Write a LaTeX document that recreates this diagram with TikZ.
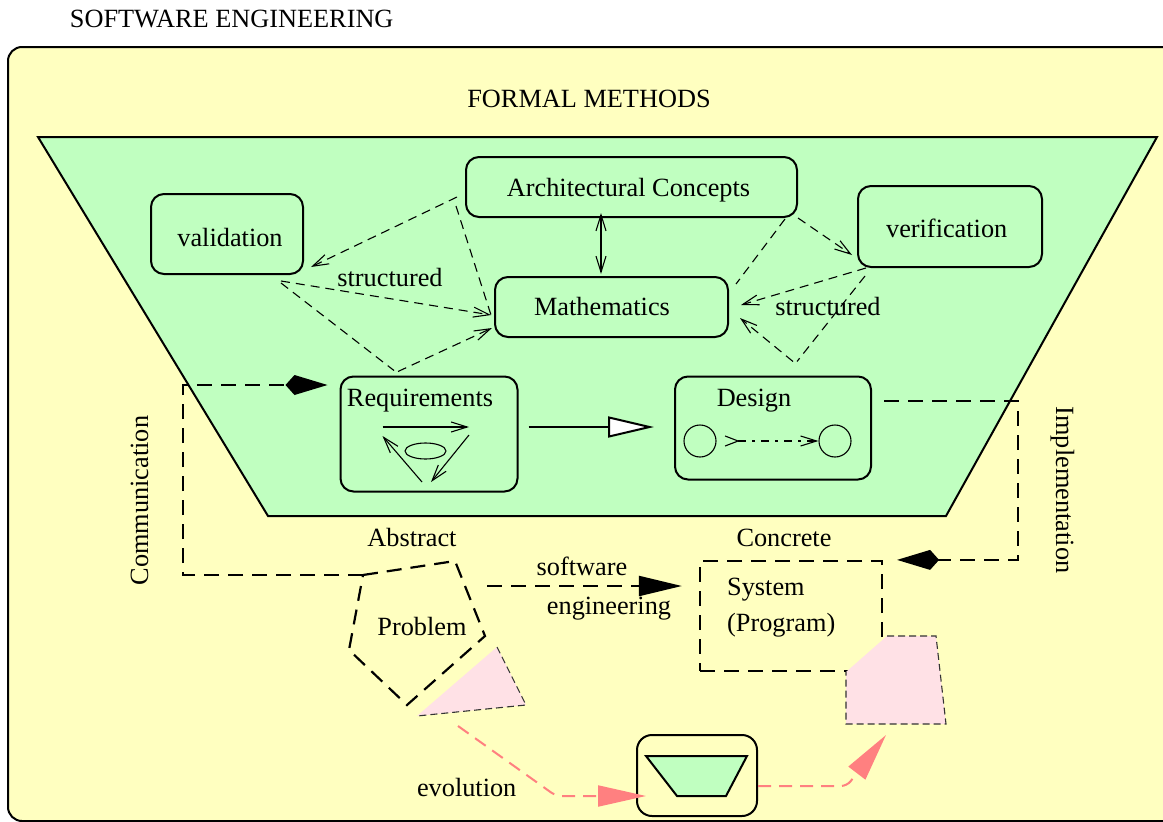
\documentclass[tikz,border=0pt]{standalone}
\usepackage{fontspec}
\setmainfont{Liberation Serif}
\usetikzlibrary{arrows.meta,shapes.geometric}
\definecolor{ylw}{HTML}{FFFFC0}
\definecolor{grn}{HTML}{C0FFC0}
\definecolor{pnkfill}{HTML}{FFE1E6}
\definecolor{pnkline}{HTML}{FF8080}
\begin{document}
\begin{tikzpicture}[x=1pt,y=-1pt,
  every node/.style={font=\fontsize{26.3pt}{31pt}\selectfont, inner sep=0pt},
  rbox/.style={draw, line width=2pt, rounded corners=13pt, fill=grn},
  thindash/.style={line width=1.1pt, dash pattern=on 9pt off 6pt},
  barb/.style={-{Straight Barb[length=16pt,width=10pt,line width=1.1pt]}},
  bigdash/.style={line width=2.2pt, dash pattern=on 15pt off 9pt},
  kitetip/.style={-{Kite[length=42pt,width=20pt,inset=9pt]}},
  pinkdash/.style={line width=1.1pt, dash pattern=on 7pt off 4pt, draw=black!80},
  evoline/.style={draw=pnkline, line width=2pt, dash pattern=on 13pt off 8pt},
  evotip/.style={-{Triangle[length=48pt,width=21pt]}},
]
\useasboundingbox (0,0) rectangle (1163,822);
\begin{scope}
\clip (0,0) rectangle (1163,822);
\draw[fill=ylw, line width=2pt, rounded corners=14pt] (8,47) rectangle (1200,821);
\end{scope}
% formal methods trapezoid
\draw[fill=grn, line width=2pt] (38,137) -- (1157,137) -- (946,516) -- (268,516) -- cycle;

\node[anchor=base] (title) at (231.7,27.3) {SOFTWARE ENGINEERING};
\node[anchor=base] (fm) at (589,107) {FORMAL METHODS};

% boxes
\node[rbox, minimum width=331pt, minimum height=60pt, text height=19.4pt, text depth=0pt] (arch) at (631.5,187) {\hspace*{-6pt}Architectural Concepts};
\node[rbox, minimum width=152pt, minimum height=80pt, text height=25.4pt, text depth=0pt] (valid) at (227,234) {\hspace*{6pt}validation};
\node[rbox, minimum width=184pt, minimum height=81pt, text height=21.6pt, text depth=0pt] (verif) at (950,226.5) {\hspace*{-6.6pt}verification};
\node[rbox, minimum width=233pt, minimum height=60pt, text height=17.4pt, text depth=0pt] (math) at (611.5,307) {\hspace*{-19pt}Mathematics};
\node[rbox, minimum width=177pt, minimum height=115pt, text height=0pt, text depth=54.6pt] (req) at (429,434) {\hspace*{-18pt}Requirements};
\node[rbox, minimum width=196pt, minimum height=103pt, text height=0pt, text depth=42.6pt] (design) at (773,428) {\hspace*{-38pt}Design};

% requirements inner drawing
\node[ellipse, draw, line width=1.1pt, minimum width=41pt, minimum height=16pt] (ell) at (425.5,451) {};
\coordinate (rq1) at (382.5,427);
\coordinate (rq2) at (469,427);
\coordinate (rq3) at (469,435);
\coordinate (rq4) at (431,482);
\coordinate (rq5) at (422,482);
\coordinate (rq6) at (382.5,436);
\draw[line width=1.1pt, barb] (rq1) -- (rq2);
\draw[line width=1.1pt, barb] (rq3) -- (rq4);
\draw[line width=1.1pt, barb] (rq5) -- (rq6);

% design inner drawing
\node[circle, draw, line width=1.1pt, minimum size=32pt] (c1) at (700,441) {};
\node[circle, draw, line width=1.1pt, minimum size=32pt] (c2) at (835,441) {};
\draw[line width=1.1pt, dash pattern=on 8pt off 6pt on 3pt off 6pt,
  {Straight Barb[reversed,length=13pt,width=10pt,line width=1.1pt]}-{Straight Barb[length=16pt,width=10pt,line width=1.1pt]}]
  ([xshift=8pt]c1.east) -- (c2.west);

% thin dashed connectors, left
\draw[thindash, barb] ([shift={(-8,10)}]arch.west) -- ([shift={(7,-8)}]valid.south east);
\draw[thindash] ([shift={(-9,-12)}]arch.south west) -- ([shift={(-3,8)}]math.west);
\draw[thindash, barb] ([shift={(-23,6)}]valid.south east) -- ([shift={(-3,8)}]math.west);
\draw[thindash] ([shift={(-23,8)}]valid.south east) -- ([shift={(-35,-5)}]req.north);
\draw[thindash, barb] ([shift={(-31,-4)}]req.north) -- ([shift={(-2,-10)}]math.south west);
% right
\draw[thindash, barb] (arch.south east) -- ([shift={(-5,-13)}]verif.south west);
\draw[thindash] ([shift={(-13,1)}]arch.south east) -- ([shift={(7,8)}]math.north east);
\draw[thindash, barb] ([shift={(9,0)}]verif.south west) -- ([shift={(12,-2)}]math.east);
\draw[thindash] ([shift={(8,8)}]verif.south west) -- ([shift={(24,-14)}]design.north);
\draw[thindash, barb] ([shift={(20,-14)}]design.north) -- ([shift={(11,11)}]math.east);
% arch <-> math
\draw[line width=1.1pt, {Straight Barb[length=16pt,width=10pt,line width=1.1pt]}-{Straight Barb[length=16pt,width=10pt,line width=1.1pt]}]
  ([shift={(-30.5,-5)}]arch.south) -- ([shift={(-10.5,-2)}]math.north);

\node[anchor=base] (st1) at (390,286.7) {structured};
\node[anchor=base] (st2) at (828,315.7) {structured};

% requirements -> design
\coordinate (ra) at ([shift={(10,-7)}]req.east);
\coordinate (rb) at ([xshift=-20pt]design.west);
\draw[line width=2pt, -{Triangle[length=46pt,width=21pt,fill=white]}] (ra) -- (rb |- ra);

% labels below trapezoid
\node[anchor=base] (abs) at (412,546) {Abstract};
\node[anchor=base] (conc) at (784,546) {Concrete};

% problem pentagon
\coordinate (pA) at (363,575);
\coordinate (pB) at (455,561);
\coordinate (pC) at (485,636);
\coordinate (pD) at (407,705);
\coordinate (pE) at (349,650);
\draw[bigdash] (pA) -- (pB) -- (pC) -- (pD) -- (pE) -- cycle;
\node[anchor=base] (prob) at (422,635) {Problem};

% pink triangle
\coordinate (t1) at (417,716);
\coordinate (t2) at (497,647);
\coordinate (t3) at (526,705);
\fill[pnkfill] (t1) -- (t2) -- (t3) -- cycle;
\draw[pinkdash] (t2) -- (t3) -- (t1);

% system box
\node[draw, bigdash, minimum width=182pt, minimum height=110pt] (system) at (791,616) {};
\node[anchor=base west] (sys1) at (727,595) {System};
\node[anchor=base west] (sys2) at (727,631.7) {(Program)};

% pink shape near system
\coordinate (s1) at (846,672);
\coordinate (s2) at (887,636);
\coordinate (s3) at (936,636);
\coordinate (s4) at (946,724);
\coordinate (s5) at (846,724);
\fill[pnkfill] (s1) -- (s2) -- (s3) -- (s4) -- (s5) -- cycle;
\draw[pinkdash] (s2) -- (s3) -- (s4) -- (s5) -- (s1);

% communication
\coordinate (comm) at (183,385);
\coordinate (reqin) at ([xshift=-12pt]req.west);
\draw[bigdash, kitetip] (pA) -| (comm) -- (reqin |- comm);
\node[anchor=base, rotate=90] (commtxt) at (148,500.5) {Communication};

% implementation
\coordinate (impl) at (1018,401);
\coordinate (dstart) at ([shift={(12,-27)}]design.east);
\coordinate (sysin) at ([xshift=14pt]system.north east);
\draw[bigdash, kitetip] (dstart) -- (impl) |- (sysin);
\node[anchor=base, rotate=-90] (impltxt) at (1056,490) {Implementation};

% software engineering
\coordinate (se1) at (487,586);
\coordinate (sysw) at ([xshift=-17pt]system.west);
\draw[bigdash, -{Triangle[length=43pt,width=20pt]}] (se1) -- (sysw |- se1);
\node[anchor=base] (sw) at (582,575) {software};
\node[anchor=base] (eng) at (609,614) {engineering};

% evolution
\node[draw, line width=2pt, rounded corners=15pt, minimum width=120pt, minimum height=81pt, fill=ylw] (evo) at (697,775.5) {};
\draw[fill=grn, line width=2pt] (646,756) -- (747,756) -- (726,796) -- (677,796) -- cycle;
\coordinate (ev1) at (458,726);
\coordinate (ev1c) at (556,796);
\coordinate (evin) at ([shift={(10,20.5)}]evo.west);
\draw[evoline, evotip, rounded corners=6pt] (ev1) -- (ev1c) -- (evin);
\coordinate (evout) at ([shift={(0,10.5)}]evo.east);
\coordinate (ev2c) at (847,786);
\coordinate (ev2e) at (886,735);
\draw[evoline, evotip, rounded corners=6pt] (evout) -- (ev2c) -- (ev2e);
\node[anchor=base] (evol) at (466.7,796.7) {evolution};
\end{tikzpicture}
\end{document}
